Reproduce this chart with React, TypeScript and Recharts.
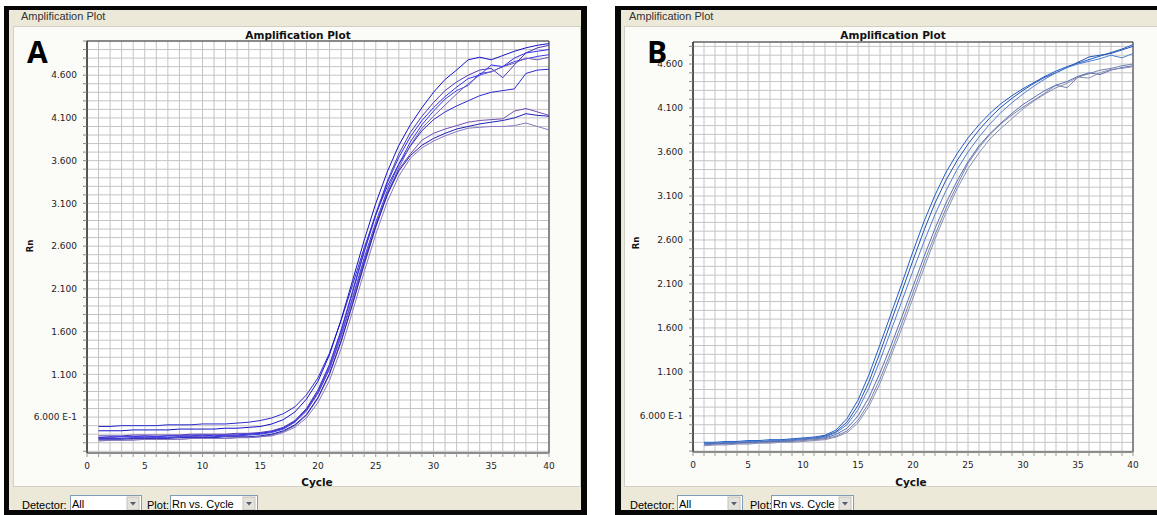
import React from 'react';
import { LineChart, Line, XAxis, YAxis, CartesianGrid, ReferenceArea } from 'recharts';

// ---------- data ----------
const cycles = [1,2,3,4,5,6,7,8,9,10,11,12,13,14,15,16,17,18,19,20,21,22,23,24,25,26,27,28,29,30,31,32,33,34,35,36,37,38,39,40];

const seriesA1 = [0.49,0.49,0.50,0.50,0.50,0.50,0.51,0.51,0.51,0.52,0.52,0.52,0.53,0.54,0.56,0.59,0.64,0.72,0.86,1.06,1.35,1.73,2.15,2.58,2.97,3.30,3.56,3.77,3.95,4.08,4.17,4.24,4.30,4.36,4.40,4.42,4.44,4.62,4.66,4.67];
const seriesA2 = [0.44,0.44,0.44,0.45,0.45,0.45,0.45,0.46,0.46,0.46,0.46,0.47,0.47,0.48,0.49,0.52,0.57,0.66,0.81,1.02,1.33,1.74,2.20,2.67,3.10,3.47,3.78,4.02,4.22,4.40,4.55,4.66,4.78,4.81,4.78,4.83,4.88,4.92,4.95,4.97];
const seriesA3 = [0.38,0.38,0.38,0.39,0.39,0.39,0.39,0.39,0.40,0.40,0.40,0.40,0.41,0.41,0.42,0.44,0.48,0.56,0.70,0.92,1.22,1.62,2.08,2.55,2.98,3.36,3.68,3.93,4.12,4.28,4.42,4.52,4.60,4.66,4.68,4.57,4.72,4.86,4.92,4.95];
const seriesA4 = [0.35,0.35,0.35,0.36,0.36,0.36,0.36,0.37,0.37,0.37,0.37,0.38,0.38,0.39,0.40,0.42,0.46,0.54,0.67,0.88,1.17,1.56,2.00,2.46,2.88,3.25,3.56,3.82,4.02,4.18,4.32,4.42,4.48,4.62,4.64,4.70,4.76,4.79,4.82,4.84];
const seriesA5 = [0.32,0.33,0.33,0.33,0.34,0.34,0.34,0.34,0.35,0.35,0.35,0.35,0.36,0.36,0.37,0.39,0.43,0.50,0.62,0.82,1.10,1.48,1.92,2.38,2.82,3.20,3.52,3.78,3.98,4.12,4.25,4.38,4.50,4.60,4.64,4.70,4.74,4.80,4.78,4.81];
const seriesA6 = [0.36,0.36,0.37,0.37,0.37,0.37,0.38,0.38,0.38,0.38,0.39,0.39,0.39,0.40,0.41,0.43,0.47,0.55,0.68,0.88,1.16,1.54,1.98,2.43,2.85,3.22,3.50,3.68,3.84,3.92,3.97,4.01,4.05,4.07,4.08,4.09,4.18,4.21,4.17,4.13];
const seriesA7 = [0.34,0.34,0.34,0.35,0.35,0.35,0.35,0.36,0.36,0.36,0.36,0.37,0.37,0.37,0.38,0.40,0.44,0.51,0.63,0.83,1.11,1.49,1.93,2.40,2.83,3.20,3.48,3.66,3.78,3.86,3.92,3.97,4.00,4.03,4.05,4.07,4.10,4.15,4.13,4.12];
const seriesA8 = [0.33,0.33,0.33,0.34,0.34,0.34,0.34,0.34,0.35,0.35,0.35,0.35,0.36,0.36,0.37,0.38,0.42,0.48,0.59,0.77,1.03,1.40,1.84,2.30,2.74,3.12,3.42,3.63,3.75,3.83,3.89,3.94,3.98,3.99,4.00,4.00,4.01,4.04,4.00,3.96];
const seriesA9 = [0.36,0.37,0.37,0.37,0.38,0.37,0.38,0.38,0.38,0.39,0.38,0.39,0.39,0.40,0.41,0.43,0.47,0.55,0.69,0.90,1.20,1.60,2.06,2.53,2.96,3.34,3.64,3.88,4.07,4.22,4.35,4.46,4.56,4.60,4.72,4.70,4.80,4.86,4.88,4.90];

const seriesB1 = [0.30,0.30,0.31,0.31,0.32,0.32,0.33,0.33,0.34,0.35,0.36,0.38,0.44,0.57,0.78,1.07,1.41,1.76,2.11,2.47,2.81,3.11,3.37,3.58,3.76,3.91,4.04,4.15,4.24,4.32,4.39,4.46,4.52,4.57,4.61,4.65,4.69,4.73,4.77,4.82];
const seriesB2 = [0.28,0.29,0.29,0.30,0.30,0.31,0.31,0.32,0.33,0.34,0.35,0.37,0.42,0.53,0.72,0.99,1.32,1.67,2.02,2.37,2.71,3.02,3.28,3.50,3.69,3.85,3.99,4.11,4.21,4.30,4.38,4.45,4.50,4.56,4.62,4.68,4.70,4.72,4.76,4.80];
const seriesB3 = [0.29,0.29,0.30,0.30,0.31,0.31,0.32,0.32,0.33,0.34,0.35,0.36,0.41,0.50,0.67,0.92,1.23,1.57,1.91,2.25,2.58,2.89,3.16,3.40,3.60,3.77,3.92,4.05,4.16,4.26,4.35,4.43,4.50,4.56,4.60,4.63,4.66,4.70,4.67,4.72];
const seriesB4 = [0.27,0.28,0.28,0.29,0.29,0.30,0.30,0.31,0.31,0.32,0.33,0.34,0.37,0.43,0.55,0.75,1.02,1.33,1.66,2.00,2.34,2.66,2.96,3.22,3.47,3.65,3.80,3.92,4.02,4.11,4.19,4.27,4.36,4.33,4.45,4.49,4.53,4.55,4.58,4.60];
const seriesB5 = [0.28,0.28,0.29,0.29,0.30,0.30,0.31,0.31,0.32,0.33,0.34,0.35,0.39,0.46,0.60,0.81,1.09,1.40,1.73,2.07,2.41,2.73,3.02,3.27,3.49,3.67,3.81,3.93,4.04,4.14,4.22,4.30,4.36,4.40,4.46,4.50,4.48,4.53,4.56,4.58];
const seriesB6 = [0.26,0.27,0.27,0.28,0.28,0.29,0.29,0.30,0.30,0.31,0.32,0.33,0.36,0.41,0.52,0.71,0.97,1.28,1.60,1.94,2.28,2.61,2.91,3.18,3.41,3.59,3.75,3.87,3.98,4.09,4.18,4.26,4.33,4.38,4.45,4.44,4.50,4.54,4.55,4.57];

const xTicks = [0,1,2,3,4,5,6,7,8,9,10,11,12,13,14,15,16,17,18,19,20,21,22,23,24,25,26,27,28,29,30,31,32,33,34,35,36,37,38,39,40];
const xLabelTicks = [0,5,10,15,20,25,30,35,40];
const yLabelTicks = [0.6,1.1,1.6,2.1,2.6,3.1,3.6,4.1,4.6];
const yLabelTexts = ['6.000 E-1','1.100','1.600','2.100','2.600','3.100','3.600','4.100','4.600'];
const yDomainA = [0.18, 5.0];
const yDomainB = [0.19, 4.85];

const colorsA = ['#2B2BD0','#1414C8','#5038B0','#3A3AE0','#6E5EB8','#7050B0','#2020B8','#8A78C0','#3030F0'];
const colorsB = ['#1F5FC8','#2A52B0','#4F7FCF','#7785AE','#5A6FB5','#8A90B4'];

const listA = [seriesA1,seriesA2,seriesA3,seriesA4,seriesA5,seriesA6,seriesA7,seriesA8,seriesA9];
const listB = [seriesB1,seriesB2,seriesB3,seriesB4,seriesB5,seriesB6];

const buildRows = (list: number[][]) =>
  cycles.map((c, i) => {
    const row: Record<string, number> = { cycle: c };
    list.forEach((s, k) => { row['s' + k] = s[i]; });
    return row;
  });

const rowsA = buildRows(listA);
const rowsB = buildRows(listB);

const gridTicks = (lo: number, hi: number) => {
  const out: number[] = [];
  for (let i = Math.ceil(lo * 10 - 1e-6); i <= Math.floor(hi * 10 + 1e-6); i++) out.push(i / 10);
  return out;
};

const yFmt = (v: number) => {
  const idx = yLabelTicks.findIndex((t) => Math.abs(t - v) < 1e-6);
  return idx >= 0 ? yLabelTexts[idx] : '';
};
const xFmt = (v: number) => (xLabelTicks.includes(v) ? String(v) : '');

const tickStyle = { fontFamily: 'DejaVu Sans, sans-serif', fontSize: 9, fill: '#1e1e1e' };

const YTick = (props: any) => {
  const { x, y, payload } = props;
  const label = yFmt(payload.value);
  if (!label) return <g />;
  return (
    <text x={x} y={y} dy="0.355em" textAnchor="end" style={{ whiteSpace: 'pre' }} {...tickStyle}>{label}</text>
  );
};

const XTick = (props: any) => {
  const { x, y, payload } = props;
  const label = xFmt(payload.value);
  if (!label) return <g />;
  return (
    <text x={x} y={y} dy="0.71em" textAnchor="middle" {...tickStyle}>{label}</text>
  );
};

type ChartProps = {
  rows: Record<string, number>[];
  n: number;
  colors: string[];
  domain: number[];
  left: number;
  top: number;
  width: number;
  height: number;
  margin: { top: number; right: number; bottom: number; left: number };
};

function AmpChart({ rows, n, colors, domain, left, top, width, height, margin }: ChartProps) {
  const yTicks = gridTicks(domain[0], domain[1]);
  const keys = Array.from({ length: n }, (_, k) => 's' + k);
  return (
    <div style={{ position: 'absolute', left, top, width, height }}>
      <LineChart width={width} height={height} data={rows} margin={margin}>
        <CartesianGrid stroke="#C4C4C4" fill="#FFFFFF" />
        <XAxis
          dataKey="cycle"
          type="number"
          domain={[0, 40]}
          ticks={xTicks}
          interval={0}
          height={30}
          tickSize={4}
          tickMargin={6}
          tick={<XTick />}
          axisLine={{ stroke: '#8C8C8C', strokeWidth: 2 }}
          tickLine={{ stroke: '#9A9A9A' }}
        />
        <YAxis
          type="number"
          domain={domain}
          ticks={yTicks}
          interval={0}
          width={60}
          tickSize={4}
          tickMargin={6}
          tick={<YTick />}
          axisLine={{ stroke: '#222222' }}
          tickLine={{ stroke: '#8A8A8A' }}
        />
        <ReferenceArea x1={0} x2={40} y1={domain[0]} y2={domain[1]} fill="none" stroke="#333333" strokeWidth={1} ifOverflow="visible" />
        {keys.map((k, i) => (
          <Line key={k} type="linear" dataKey={k} stroke={colors[i % colors.length]} strokeWidth={1} dot={false} activeDot={false} isAnimationActive={false} />
        ))}
      </LineChart>
    </div>
  );
}

const F_UI = 'Liberation Sans, Arial, sans-serif';
const F_CH = 'DejaVu Sans, sans-serif';

function Dropdown({ x, w, label }: { x: number; w: number; label: string }) {
  return (
    <g>
      <rect x={x + 0.5} y={495.5} width={w} height={16} fill="#FFFFFF" stroke="#7F9DB9" />
      <text x={x + 2} y={508} fontFamily={F_UI} fontSize={11} fill="#000">{label}</text>
      <rect x={x + w - 14} y={497} width={12} height={13} fill="#E4E2DA" stroke="#C3C1B8" />
      <path d={`M ${x + w - 11} ${502} L ${x + w - 5} ${502} L ${x + w - 8} ${505.5} Z`} fill="#55606E" />
    </g>
  );
}

function Chrome() {
  return (
    <svg width={1157} height={515} style={{ position: 'absolute', left: 0, top: 0 }}>
      <rect x={0} y={0} width={1157} height={515} fill="#FFFFFF" />
      {/* Panel A frame */}
      <rect x={4} y={6} width={583} height={509} fill="#060606" />
      <rect x={9} y={10} width={572} height={500} fill="#ECE9D8" />
      <text x={21} y={20} fontFamily={F_UI} fontSize={11} fill="#333">Amplification Plot</text>
      <rect x={13.5} y={26.5} width={567} height={460} fill="#FBFBF8" stroke="#D2CFC4" />
      <text x={298} y={39} textAnchor="middle" fontFamily={F_CH} fontWeight="bold" fontSize={10.5} fill="#111">Amplification Plot</text>
      <text x={0} y={0} transform="translate(33,246) rotate(-90)" textAnchor="middle" fontFamily={F_CH} fontWeight="bold" fontSize={8.5} fill="#111">Rn</text>
      <text x={317} y={486} textAnchor="middle" fontFamily={F_CH} fontWeight="bold" fontSize={10.5} fill="#111">Cycle</text>
      <text x={22} y={509} fontFamily={F_UI} fontSize={11} fill="#000">Detector:</text>
      <Dropdown x={70} w={71} label="All" />
      <text x={147} y={509} fontFamily={F_UI} fontSize={11} fill="#000">Plot:</text>
      <Dropdown x={170} w={87} label="Rn vs. Cycle" />
      <rect x={4} y={510} width={583} height={5} fill="#060606" />

      {/* Panel B frame */}
      <rect x={615} y={6} width={545} height={509} fill="#060606" />
      <rect x={621} y={10} width={540} height={500} fill="#ECE9D8" />
      <text x={629} y={20} fontFamily={F_UI} fontSize={11} fill="#333">Amplification Plot</text>
      <rect x={624.5} y={26.5} width={540} height={460} fill="#FBFBF8" stroke="#D2CFC4" />
      <text x={893} y={39} textAnchor="middle" fontFamily={F_CH} fontWeight="bold" fontSize={10.5} fill="#111">Amplification Plot</text>
      <text x={0} y={0} transform="translate(639,243) rotate(-90)" textAnchor="middle" fontFamily={F_CH} fontWeight="bold" fontSize={8.5} fill="#111">Rn</text>
      <text x={911} y={486} textAnchor="middle" fontFamily={F_CH} fontWeight="bold" fontSize={10.5} fill="#111">Cycle</text>
      <text x={630} y={509} fontFamily={F_UI} fontSize={11} fill="#000">Detector:</text>
      <Dropdown x={677} w={65} label="All" />
      <text x={750} y={509} fontFamily={F_UI} fontSize={11} fill="#000">Plot:</text>
      <Dropdown x={771} w={82} label="Rn vs. Cycle" />
      <rect x={615} y={510} width={545} height={5} fill="#060606" />
    </svg>
  );
}

function Letters() {
  return (
    <svg width={1157} height={515} style={{ position: 'absolute', left: 0, top: 0, pointerEvents: 'none' }}>
      <text x={27} y={62.5} fontFamily="Open Sans, sans-serif" fontWeight={700} fontSize={30} fill="#000">A</text>
      <text x={647} y={62.5} fontFamily="Open Sans, sans-serif" fontWeight={700} fontSize={30} fill="#000">B</text>
    </svg>
  );
}

export default function App() {
  return (
    <div style={{ position: 'absolute', left: 0, top: 0, width: 1157, height: 515, overflow: 'hidden', background: '#fff' }}>
      <Chrome />
      <AmpChart rows={rowsA} n={listA.length} colors={colorsA} domain={yDomainA}
        left={13} top={26} width={568} height={461}
        margin={{ top: 15, right: 32, bottom: 4, left: 14 }} />
      <AmpChart rows={rowsB} n={listB.length} colors={colorsB} domain={yDomainB}
        left={624} top={26} width={533} height={461}
        margin={{ top: 16, right: 24, bottom: 5, left: 9 }} />
      <Letters />
    </div>
  );
}
